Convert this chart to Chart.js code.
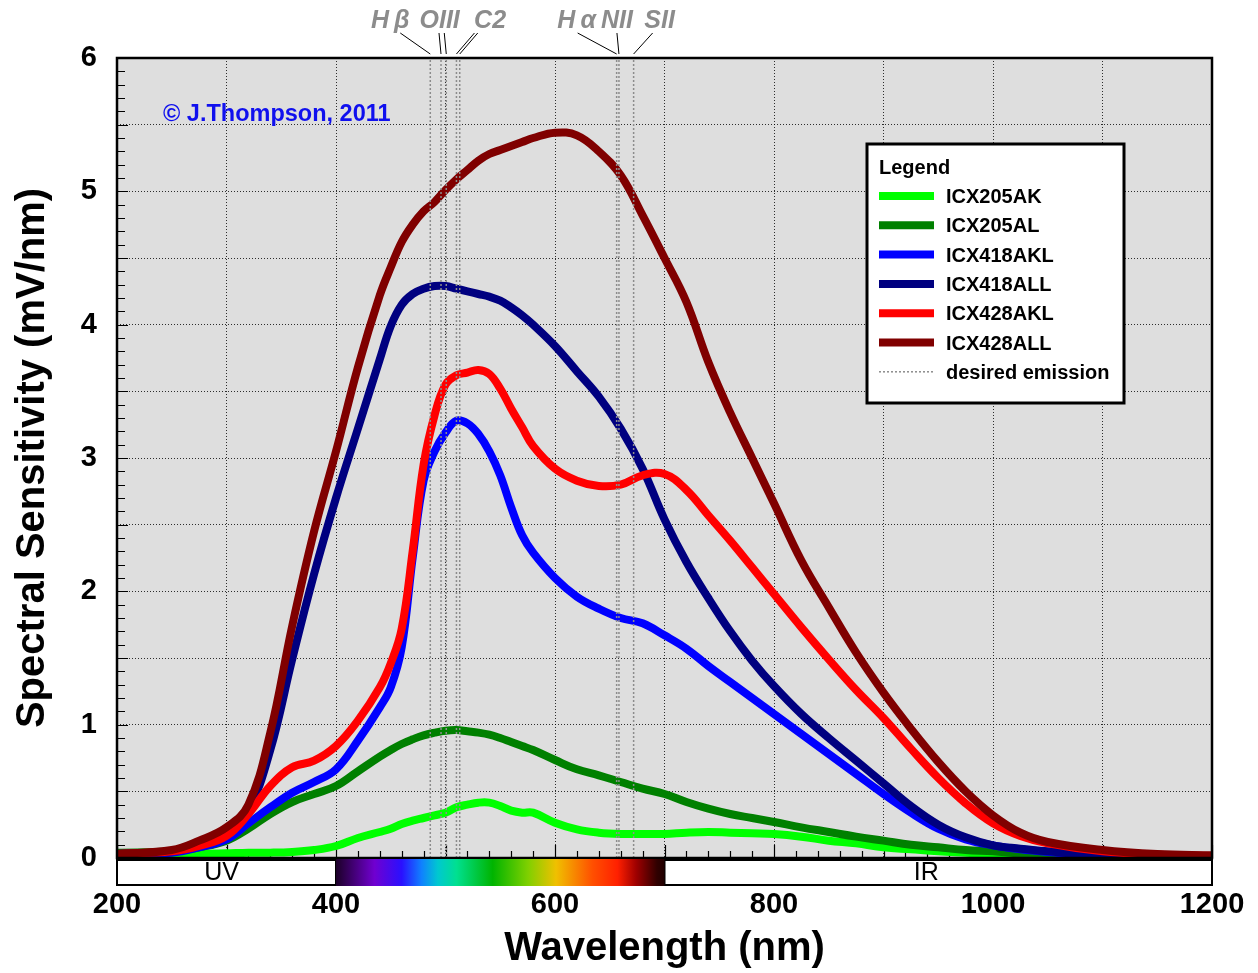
<!DOCTYPE html>
<html>
<head>
<meta charset="utf-8">
<script src="https://cdn.jsdelivr.net/npm/chart.js@4.4.1/dist/chart.umd.min.js"></script>
<style>
  html, body { margin: 0; padding: 0; background: #fff; }
  #wrap { width: 1258px; height: 973px; }
</style>
</head>
<body>
<div id="wrap"><canvas id="sensChart"></canvas></div>
<script>
// wavelength grid (nm) shared by all sensors
const wavelengths = [200, 250, 275, 300, 320, 340, 360, 380, 400, 420, 440, 450, 460, 470, 480, 490, 500,
  510, 520, 530, 540, 550, 560, 570, 580, 600, 620, 640, 660, 680, 700, 720, 740, 760, 780, 800,
  825, 850, 875, 900, 925, 950, 975, 1000, 1025, 1050, 1100, 1150, 1200];

// spectral sensitivity (mV/nm)
const icx205ak = [0.03, 0.03, 0.03, 0.035, 0.04, 0.04, 0.045, 0.06, 0.09, 0.15, 0.195, 0.22, 0.255, 0.28, 0.30, 0.32, 0.34,
  0.38, 0.40, 0.415, 0.415, 0.39, 0.355, 0.34, 0.34, 0.265, 0.215, 0.19, 0.18, 0.18, 0.18, 0.19, 0.195, 0.19, 0.185, 0.18,
  0.16, 0.13, 0.11, 0.08, 0.065, 0.05, 0.04, 0.03, 0.025, 0.02, 0.02, 0.015, 0.01];
const icx205al = [0.04, 0.05, 0.08, 0.13, 0.22, 0.33, 0.42, 0.48, 0.54, 0.65, 0.76, 0.81, 0.855, 0.89, 0.92, 0.94, 0.955,
  0.96, 0.95, 0.94, 0.925, 0.90, 0.87, 0.84, 0.81, 0.735, 0.665, 0.62, 0.57, 0.52, 0.48, 0.42, 0.37, 0.33, 0.30, 0.27,
  0.23, 0.195, 0.16, 0.13, 0.10, 0.08, 0.06, 0.05, 0.035, 0.03, 0.02, 0.015, 0.01];
const icx418akl = [0.03, 0.04, 0.08, 0.14, 0.26, 0.38, 0.49, 0.57, 0.665, 0.88, 1.13, 1.28, 1.58, 2.25, 2.83, 3.05, 3.19,
  3.28, 3.26, 3.18, 3.05, 2.87, 2.63, 2.42, 2.29, 2.10, 1.96, 1.87, 1.80, 1.76, 1.67, 1.57, 1.44, 1.32, 1.20, 1.08,
  0.93, 0.78, 0.63, 0.48, 0.34, 0.22, 0.14, 0.095, 0.065, 0.045, 0.015, 0.01, 0.01];
const icx418all = [0.03, 0.05, 0.10, 0.19, 0.36, 0.81, 1.49, 2.13, 2.70, 3.22, 3.74, 3.99, 4.15, 4.23, 4.27, 4.29, 4.29,
  4.27, 4.25, 4.23, 4.21, 4.18, 4.13, 4.07, 4.00, 3.84, 3.65, 3.46, 3.22, 2.92, 2.54, 2.22, 1.95, 1.70, 1.48, 1.29,
  1.08, 0.90, 0.73, 0.56, 0.39, 0.25, 0.155, 0.095, 0.07, 0.05, 0.015, 0.01, 0.01];
const icx428akl = [0.03, 0.05, 0.09, 0.165, 0.33, 0.54, 0.68, 0.73, 0.84, 1.03, 1.28, 1.46, 1.72, 2.30, 2.95, 3.32, 3.55,
  3.62, 3.64, 3.66, 3.63, 3.52, 3.37, 3.23, 3.09, 2.92, 2.83, 2.79, 2.80, 2.87, 2.88, 2.76, 2.57, 2.38, 2.18, 1.98,
  1.73, 1.49, 1.26, 1.05, 0.82, 0.60, 0.41, 0.26, 0.165, 0.11, 0.05, 0.025, 0.015];
const icx428all = [0.03, 0.06, 0.13, 0.23, 0.40, 0.94, 1.74, 2.45, 3.05, 3.68, 4.22, 4.43, 4.62, 4.75, 4.85, 4.92, 5.01,
  5.09, 5.16, 5.23, 5.28, 5.31, 5.34, 5.37, 5.40, 5.44, 5.42, 5.30, 5.12, 4.82, 4.50, 4.17, 3.72, 3.34, 3.00, 2.66,
  2.23, 1.88, 1.54, 1.24, 0.97, 0.72, 0.50, 0.32, 0.19, 0.12, 0.06, 0.03, 0.02];

const seriesNames = ['ICX205AK', 'ICX205AL', 'ICX418AKL', 'ICX418ALL', 'ICX428AKL', 'ICX428ALL'];
const seriesValues = [icx205ak, icx205al, icx418akl, icx418all, icx428akl, icx428all];
const seriesColors = ['#00ff00', '#008000', '#0000ff', '#000080', '#ff0000', '#800000'];

// emission lines (nm) grouped under their labels
const emissionNames = ['H\u2009β', 'OIII', 'C2', 'H\u2009α', 'NII', 'SII'];
const emissionGroups = [[486.1], [495.9, 500.7], [510, 513], [656.3], [658.4], [671.8]];

const xTickLabels = [200, 400, 600, 800, 1000, 1200];
const yTickLabels = [0, 1, 2, 3, 4, 5, 6];

const FONT = "'Liberation Sans', Arial, sans-serif";
Chart.defaults.font.family = FONT;
Chart.defaults.color = '#000';

const datasets = seriesNames.map((name, i) => ({
  label: name,
  data: wavelengths.map((w, j) => ({ x: w, y: seriesValues[i][j] })),
  borderColor: seriesColors[i],
  borderWidth: 8,
  borderJoinStyle: 'round',
  borderCapStyle: 'round',
  pointRadius: 0,
  tension: 0.4,
  fill: false,
  order: seriesNames.length - i
}));

emissionGroups.flat().forEach(nm => {
  datasets.push({
    label: 'desired emission',
    emission: true,
    data: [{ x: nm, y: 0 }, { x: nm, y: 6 }],
    borderColor: '#8c8c8c',
    borderWidth: 1.5,
    borderDash: [2, 2],
    pointRadius: 0,
    order: 0
  });
});

// gray plot background
const plotBackground = {
  id: 'plotBackground',
  beforeDraw(chart) {
    const { ctx, chartArea: a } = chart;
    ctx.save();
    ctx.fillStyle = '#dedede';
    ctx.fillRect(a.left, a.top, a.right - a.left, a.bottom - a.top);
    ctx.restore();
  }
};

// small inward tick marks on the left and bottom edges
const innerTicks = {
  id: 'innerTicks',
  beforeDatasetsDraw(chart) {
    const { ctx, chartArea: a, scales } = chart;
    ctx.save();
    ctx.strokeStyle = '#000';
    ctx.lineWidth = 1.2;
    ctx.beginPath();
    for (let nm = 200; nm <= 1200; nm += 20) {
      const x = Math.round(scales.x.getPixelForValue(nm)) + 0.5;
      const len = nm % 100 === 0 ? 13 : 7;
      ctx.moveTo(x, a.bottom);
      ctx.lineTo(x, a.bottom - len);
    }
    for (let i = 0; i <= 60; i++) {
      const y = Math.round(scales.y.getPixelForValue(i / 10)) + 0.5;
      const len = i % 5 === 0 ? 11 : 8;
      ctx.moveTo(a.left, y);
      ctx.lineTo(a.left + len, y);
    }
    ctx.stroke();
    ctx.restore();
  }
};

const decorations = {
  id: 'decorations',
  afterDraw(chart) {
    const { ctx, chartArea: a, scales } = chart;
    const xs = scales.x;
    ctx.save();

    // plot frame
    ctx.strokeStyle = '#000';
    ctx.lineWidth = 2.5;
    ctx.strokeRect(a.left, a.top, a.right - a.left, a.bottom - a.top);

    // UV / visible / IR bar under the plot
    const top = a.bottom + 2, h = 25;
    const x400 = xs.getPixelForValue(400), x700 = xs.getPixelForValue(700);
    ctx.fillStyle = '#fff';
    ctx.fillRect(a.left, top, a.right - a.left, h);
    ctx.lineWidth = 2;
    ctx.strokeRect(a.left, top, x400 - a.left, h);
    ctx.strokeRect(x700, top, a.right - x700, h);
    const g = ctx.createLinearGradient(x400, 0, x700, 0);
    [[0, '#1c0028'], [0.117, '#7000d0'], [0.2, '#2a10ff'], [0.26, '#1080ff'], [0.31, '#00c8d0'],
     [0.367, '#00e090'], [0.477, '#00b400'], [0.585, '#80d000'], [0.67, '#f0c000'], [0.78, '#ff5000'],
     [0.857, '#ff2000'], [0.913, '#a00000'], [0.977, '#300000'], [1, '#200000']]
      .forEach(([p, c]) => g.addColorStop(p, c));
    ctx.fillStyle = g;
    ctx.fillRect(x400, top - 1, x700 - x400, h + 2);
    ctx.fillStyle = '#000';
    ctx.font = `25px ${FONT}`;
    ctx.textAlign = 'center';
    ctx.textBaseline = 'middle';
    ctx.fillText('UV', (a.left + x400) / 2 - 5, top + h / 2 + 1);
    ctx.fillText('IR', (x700 + a.right) / 2 - 12, top + h / 2 + 1);

    // emission line labels with leaders
    const shift = [-40, -4, 32, -40, -2, 26];
    const lead = [10, 2, -14, 1, 0, -7];
    ctx.font = `italic bold 25px ${FONT}`;
    ctx.textBaseline = 'alphabetic';
    ctx.strokeStyle = '#000';
    ctx.lineWidth = 1;
    emissionGroups.forEach((grp, i) => {
      const px = grp.map(nm => xs.getPixelForValue(nm));
      const mid = px.reduce((s, v) => s + v, 0) / px.length;
      const cx = mid + shift[i];
      ctx.fillStyle = '#8c8c8c';
      ctx.fillText(emissionNames[i], cx, 28);
      ctx.beginPath();
      px.forEach(p => {
        ctx.moveTo(cx + lead[i] + (p - mid), 33);
        ctx.lineTo(p, a.top - 4);
      });
      ctx.stroke();
    });

    // copyright
    ctx.fillStyle = '#1010ee';
    ctx.font = `bold 23.5px ${FONT}`;
    ctx.textAlign = 'left';
    ctx.fillText('\u00a9 J.Thompson, 2011', a.left + 46, 121);

    // legend box
    const lx = a.right - 345, ly = a.top + 86, lw = 257, lh = 259;
    ctx.fillStyle = '#fff';
    ctx.fillRect(lx, ly, lw, lh);
    ctx.lineWidth = 3;
    ctx.strokeStyle = '#000';
    ctx.strokeRect(lx, ly, lw, lh);
    ctx.fillStyle = '#000';
    ctx.font = `bold 20px ${FONT}`;
    ctx.fillText('Legend', lx + 12, ly + 30);
    const rows = chart.data.datasets.filter(d => !d.emission);
    rows.push(chart.data.datasets.find(d => d.emission));
    rows.forEach((d, i) => {
      const y = ly + 52 + i * 29.3;
      ctx.save();
      ctx.strokeStyle = d.borderColor;
      if (d.emission) {
        ctx.lineWidth = 1.5;
        ctx.setLineDash([2, 2]);
      } else {
        ctx.lineWidth = 8;
      }
      ctx.beginPath();
      ctx.moveTo(lx + 12, y);
      ctx.lineTo(lx + 67, y);
      ctx.stroke();
      ctx.restore();
      ctx.fillStyle = '#000';
      ctx.fillText(d.label, lx + 79, y + 7);
    });
    ctx.restore();
  }
};

new Chart(document.getElementById('sensChart'), {
  type: 'line',
  data: { datasets },
  options: {
    responsive: true,
    maintainAspectRatio: false,
    animation: false,
    layout: { padding: { top: 58, right: 46, left: 0, bottom: 0 } },
    plugins: { legend: { display: false }, tooltip: { enabled: false } },
    scales: {
      x: {
        type: 'linear', min: 200, max: 1200,
        afterFit: s => { s.height = 115; s.paddingLeft = 0; s.paddingRight = 0; },
        ticks: {
          stepSize: 100, padding: 30, maxRotation: 0, autoSkip: false,
          font: { size: 29, weight: 'bold' },
          callback: v => xTickLabels.includes(v) ? String(v) : ''
        },
        grid: { color: 'rgba(0,0,0,0.8)', lineWidth: 1, drawTicks: false },
        border: { display: false, dash: [1, 2] },
        title: { display: true, text: 'Wavelength (nm)', font: { size: 40, weight: 'bold' }, padding: { top: 0, bottom: 0 } }
      },
      y: {
        min: 0, max: 6,
        afterFit: s => { s.width = 117; s.paddingTop = 0; s.paddingBottom = 0; },
        ticks: {
          stepSize: 0.5, padding: 20, autoSkip: false,
          font: { size: 29, weight: 'bold' },
          callback: v => yTickLabels.includes(v) ? String(v) : ''
        },
        grid: { color: 'rgba(0,0,0,0.8)', lineWidth: 1, drawTicks: false },
        border: { display: false, dash: [1, 2] },
        title: { display: true, text: 'Spectral Sensitivity (mV/nm)', font: { size: 40, weight: 'bold' }, padding: { top: 9, bottom: 0 } }
      }
    }
  },
  plugins: [plotBackground, innerTicks, decorations]
});
</script>
</body>
</html>
